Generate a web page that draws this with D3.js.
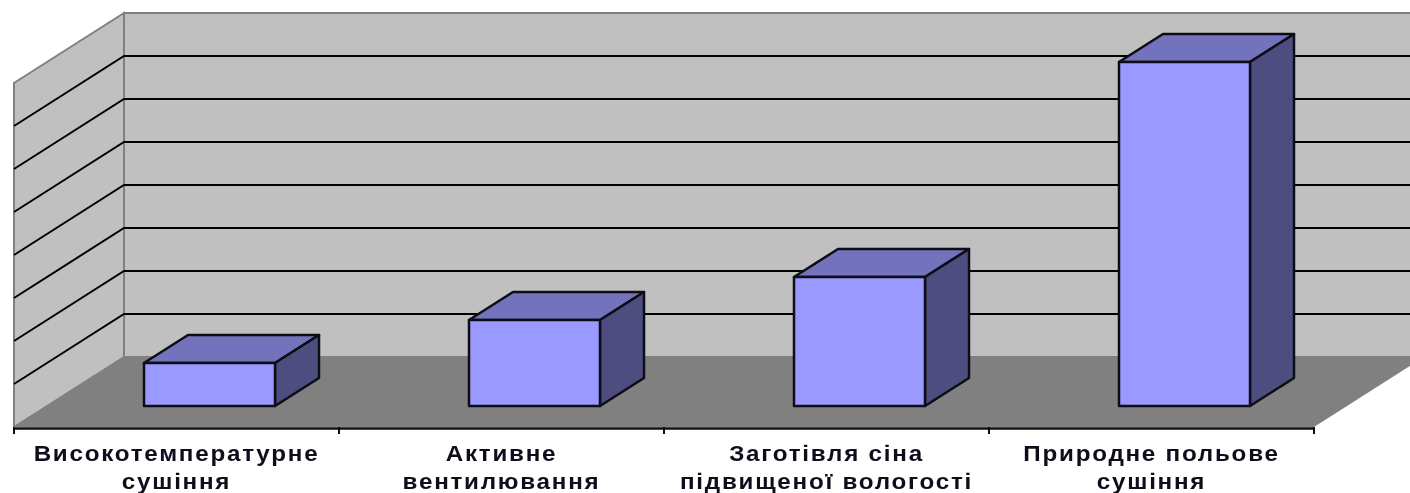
<!DOCTYPE html>
<html><head><meta charset="utf-8">
<script src="https://cdn.jsdelivr.net/npm/d3@7"></script>
<style>html,body{margin:0;background:#fff;overflow:hidden}</style></head>
<body><svg id="c" width="1410" height="493"></svg>
<script>
const categories = ["Високотемпературне сушіння","Активне вентилювання","Заготівля сіна підвищеної вологості","Природне польове сушіння"];
const labelLines = [["Високотемпературне","сушіння"],["Активне","вентилювання"],["Заготівля сіна","підвищеної вологості"],["Природне польове","сушіння"]];
const values = [1,2,3,8];
const gridTicks = [0,1,2,3,4,5,6,7,8];

const svg = d3.select("#c");
svg.append("defs").append("filter").attr("id","soft").attr("x","-5%").attr("y","-5%").attr("width","110%").attr("height","110%")
  .append("feGaussianBlur").attr("stdDeviation",0.6);
const root = svg.append("g").attr("filter","url(#soft)");

const x = d3.scaleBand().domain(categories).range([14,1314]);
const y = d3.scaleLinear().domain([0,8]).range([0,344]);
const depthX = d3.scaleLinear().domain([0,1]).range([0,110]);
const depthY = d3.scaleLinear().domain([0,1]).range([0,70]);
const FRONT = 427;
const P = (px,z,v)=>[px+depthX(z), FRONT-depthY(z)-y(v)];
const poly = pts => "M"+pts.map(p=>p.join(",")).join("L")+"Z";
const xL = x.range()[0], xR = x.range()[1], yMax = y.domain()[1];

// walls and floor
root.append("path").attr("d",poly([P(xL,1,0),P(xR+110,1,0),P(xR+110,1,yMax),P(xL,1,yMax)])).attr("fill","#c0c0c0").attr("stroke","#808080").attr("stroke-width",2);
root.append("path").attr("d",poly([P(xL,0,0),P(xL,1,0),P(xL,1,yMax),P(xL,0,yMax)])).attr("fill","#c0c0c0").attr("stroke","#808080").attr("stroke-width",2);
root.append("path").attr("d",poly([P(xL,0,0),P(xR,0,0),P(xR,1,0),P(xL,1,0)])).attr("fill","#808080");

// gridlines
const grid = gridTicks.filter(t=>t>0&&t<8);
root.append("g").selectAll("path").data(grid).join("path")
  .attr("d",t=>"M"+[P(xL,0,t),P(xL,1,t),P(xR+110,1,t)].map(p=>p.join(",")).join("L"))
  .attr("fill","none").attr("stroke","#000").attr("stroke-width",2);

// bars
const z0=0.3, z1=0.7, barW=131;
const bars = root.append("g").selectAll("g").data(categories).join("g")
  .attr("stroke","#0c0c14").attr("stroke-width",2.5).attr("stroke-linejoin","round");
const bx = i => x(categories[i]) + x.bandwidth()/2 - barW/2;
bars.each(function(c,i){
  const g=d3.select(this), a=bx(i), b=a+barW, v=values[i];
  g.append("path").attr("d",poly([P(a,z0,v),P(b,z0,v),P(b,z1,v),P(a,z1,v)])).attr("fill","#7373bd");
  g.append("path").attr("d",poly([P(b,z0,0),P(b,z1,0),P(b,z1,v),P(b,z0,v)])).attr("fill","#4d4d80");
  g.append("path").attr("d",poly([P(a,z0,0),P(b,z0,0),P(b,z0,v),P(a,z0,v)])).attr("fill","#9999ff");
});

// axis
const axisEdges = [...categories.map(c=>x(c)), xR];
root.append("path").attr("d",`M${xL},${FRONT+1.5}H${xR}`).attr("stroke","#111").attr("stroke-width",2.5);
root.append("g").selectAll("line").data(axisEdges).join("line")
  .attr("x1",d=>d).attr("x2",d=>d).attr("y1",FRONT).attr("y2",FRONT+7).attr("stroke","#111").attr("stroke-width",2);

// labels
root.append("g").selectAll("g").data(categories).join("g")
  .attr("transform",c=>`translate(${x(c)+x.bandwidth()/2},0) scale(1.1,1)`)
  .each(function(c,i){
    d3.select(this).selectAll("text").data(labelLines[i]).join("text")
      .attr("text-anchor","middle").attr("font-family","'Liberation Sans',Arial,sans-serif")
      .attr("font-weight","bold").attr("font-size",22).attr("letter-spacing",1.6).attr("fill","#0c0c1c")
      .attr("x",0).attr("y",(l,j)=>461+j*28).text(l=>l);
  });
</script></body></html>
